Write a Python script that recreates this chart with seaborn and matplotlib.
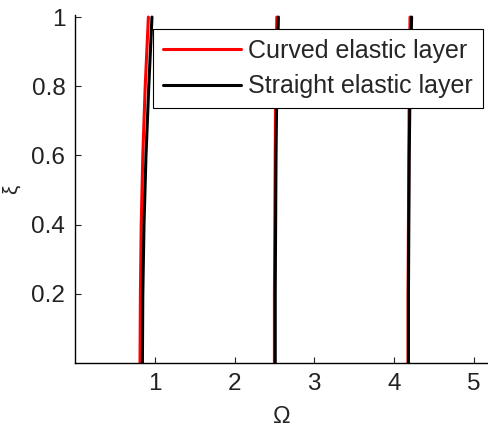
import numpy as np
import pandas as pd
import matplotlib
matplotlib.use("Agg")
import matplotlib.pyplot as plt
import seaborn as sns

# Data (dispersion branches, Omega vs xi)
xi = [0.0, 0.2, 0.4, 0.6, 0.8, 1.0]
curved_mode1 = [0.815, 0.82, 0.83, 0.85, 0.88, 0.92]
curved_mode2 = [2.50, 2.50, 2.505, 2.51, 2.515, 2.53]
curved_mode3 = [4.175, 4.175, 4.18, 4.185, 4.19, 4.20]
straight_mode1 = [0.845, 0.85, 0.865, 0.89, 0.925, 0.965]
straight_mode2 = [2.51, 2.51, 2.515, 2.52, 2.53, 2.55]
straight_mode3 = [4.18, 4.18, 4.185, 4.19, 4.20, 4.22]

series_names = ["Curved elastic layer", "Straight elastic layer"]
x_ticks = [1, 2, 3, 4, 5]
y_ticks = [0.2, 0.4, 0.6, 0.8, 1.0]
y_ticklabels = ["0.2", "0.4", "0.6", "0.8", "1"]

rows = []
for name, modes in zip(series_names,
                       [[curved_mode1, curved_mode2, curved_mode3],
                        [straight_mode1, straight_mode2, straight_mode3]]):
    for m, vals in enumerate(modes):
        for o, x in zip(vals, xi):
            rows.append({"omega": o, "xi": x, "layer": name, "mode": m})
df = pd.DataFrame(rows)

sns.set_theme(style="white")
plt.rcParams['font.family'] = ['Liberation Sans', 'DejaVu Sans']

fig = plt.figure(figsize=(4.89, 4.33), dpi=100)
ax = fig.add_axes([75 / 489, 70 / 433, 1 - 75 / 489, (363 - 15) / 433])

sns.lineplot(data=df, x="omega", y="xi", hue="layer", units="mode",
             estimator=None, sort=False, orient="y",
             palette={"Curved elastic layer": "red", "Straight elastic layer": "black"},
             linewidth=2.2, ax=ax)

ax.set_xlim(0, 5.19)
ax.set_ylim(0, 1.006)
ax.set_xticks(x_ticks)
ax.set_xticklabels([str(t) for t in x_ticks])
ax.set_yticks(y_ticks)
ax.set_yticklabels(y_ticklabels)
ax.tick_params(direction="in", length=4, width=0.8, labelsize=17.5, colors="#222222",
               bottom=True, left=True, pad=7)
for s in ["top", "right"]:
    ax.spines[s].set_visible(False)
for s in ["left", "bottom"]:
    ax.spines[s].set_color("black")
    ax.spines[s].set_linewidth(1.0)

ax.set_xlabel("Ω", fontsize=17, labelpad=8)
ax.set_ylabel("ξ", fontsize=15)
ax.yaxis.set_label_coords(-0.13, 0.5)

leg = ax.legend(loc="upper left", bbox_to_anchor=(153 / 489, 1 - 29 / 433),
                bbox_transform=fig.transFigure, fontsize=18, frameon=True,
                fancybox=False, framealpha=1, edgecolor="black",
                handlelength=3.1, handletextpad=0.3, borderpad=0.4,
                labelspacing=0.45, borderaxespad=0)
leg.get_frame().set_linewidth(0.8)

fig.savefig("out.png", dpi=100)
